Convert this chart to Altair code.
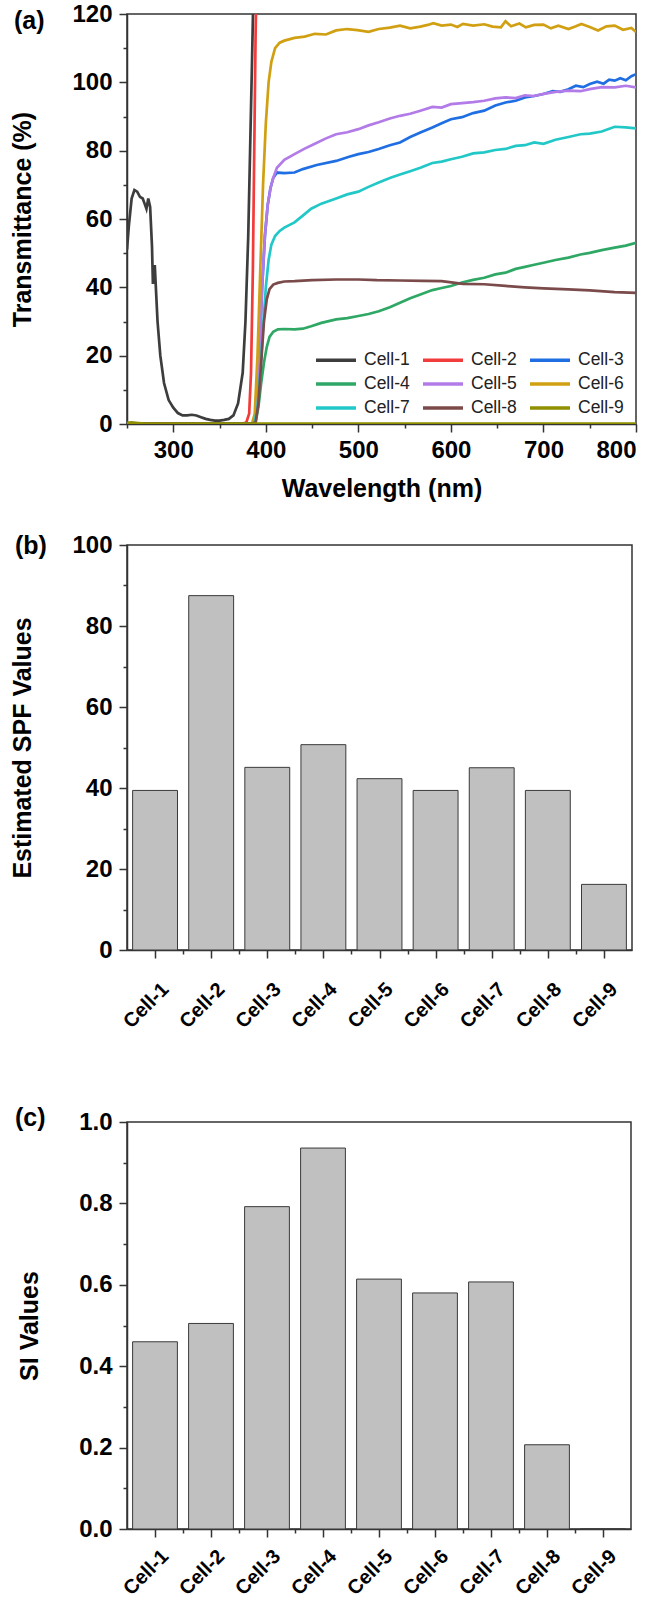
import json
import altair as alt
import pandas as pd

FONT = "Liberation Sans"

cells = ["Cell-1", "Cell-2", "Cell-3", "Cell-4", "Cell-5", "Cell-6", "Cell-7", "Cell-8", "Cell-9"]
colors = ["#3d3d3d", "#f23b3b", "#1f6fe3", "#2fa865", "#b27be8", "#d1a012", "#22c8c8", "#7b4b4b", "#8f8f00"]

# ---------------- panel (a): transmittance spectra ----------------
wl_1 = [250, 252, 255, 258, 261, 264, 267, 269, 271, 273, 275, 277, 278, 279, 280, 281, 283, 286, 290,
        295, 300, 305, 310, 315, 320, 325, 330, 335, 340, 345, 350, 355, 360, 365, 370, 375, 378, 381,
        383, 385, 386.5, 388, 800]
t_1 = [51, 58, 66, 68.5, 68, 66.5, 66, 64.5, 63, 66, 63.5, 52, 41, 44, 46.5, 41, 30, 20, 12,
       7, 4.8, 3.2, 2.5, 2.5, 2.7, 2.5, 2.0, 1.5, 1.2, 1.0, 1.0, 1.2, 1.5, 2.5, 6, 15, 30, 55,
       80, 105, 125, 140, 140]

wl_2 = [250, 375, 379, 382, 384, 386, 387.5, 389, 390, 800]
t_2 = [0.2, 0.1, 0.5, 3, 15, 45, 80, 115, 130, 130]

wl_3 = [250, 384, 387, 390, 393, 396, 399, 402, 405, 408, 412, 420, 431, 440, 455, 476, 490, 500, 511,
        522, 534, 545, 556, 567, 580, 590, 600, 612, 624, 636, 648, 659, 670, 680, 690, 700, 710, 718,
        727, 735, 743, 750, 758, 765, 771, 777, 783, 789, 795, 800]
t_3 = [0.2, 0.1, 0.5, 5, 20, 40, 55, 64, 69, 72, 73.6, 73.4, 73.6, 74.6, 75.8, 77, 78.2, 79, 79.6,
       80.5, 81.6, 82.4, 84.0, 85.3, 86.8, 88.0, 89.2, 89.8, 91.0, 91.7, 93.2, 94.1, 94.6, 95.6, 96.0, 96.6, 97.4, 97.2,
       98.0, 99.0, 98.6, 99.5, 100.2, 99.6, 100.8, 100.5, 101.2, 100.6, 101.8, 102.4]

wl_4 = [250, 385, 389, 392, 395, 398, 401, 404, 408, 413, 420, 431, 440, 449, 460, 476, 488, 500, 511,
        522, 534, 545, 556, 567, 580, 590, 600, 612, 624, 636, 648, 659, 670, 680, 690, 700, 713, 727,
        740, 750, 763, 777, 789, 800]
t_4 = [0.2, 0.1, 0.5, 5, 12, 18, 22.5, 25.5, 27, 27.7, 27.8, 27.7, 27.9, 28.6, 29.6, 30.6, 31.0, 31.6, 32.2,
       33.0, 34.2, 35.5, 36.8, 37.9, 39.2, 39.8, 40.4, 41.4, 42.2, 42.8, 43.8, 44.3, 45.4, 46.0, 46.6, 47.2, 48.0, 48.7,
       49.6, 50.1, 50.9, 51.6, 52.2, 53.0]

wl_5 = [250, 384, 387, 390, 393, 396, 399, 402, 405, 408, 412, 420, 431, 442, 453, 465, 476, 488, 500,
        511, 522, 534, 545, 556, 567, 580, 590, 600, 612, 624, 636, 648, 659, 670, 680, 690, 700, 713,
        727, 740, 750, 763, 777, 789, 800]
t_5 = [0.2, 0.1, 0.5, 5, 20, 40, 55, 64, 69, 72, 75, 77.3, 79, 80.6, 82, 83.6, 84.8, 85.4, 86.3,
       87.4, 88.3, 89.4, 90.2, 90.8, 91.7, 92.8, 92.6, 93.6, 93.9, 94.2, 94.6, 95.3, 95.6, 95.4, 96.2, 96.0, 96.6, 97.2,
       97.6, 97.4, 98.0, 98.6, 98.5, 99.0, 98.5]

wl_6 = [250, 385, 388, 391, 394, 397, 400, 403, 406, 410, 415, 420, 431, 442, 453, 465, 476, 488, 499,
        511, 522, 534, 545, 556, 567, 575, 581, 590, 600, 607, 613, 624, 636, 645, 654, 659, 665, 674,
        681, 690, 700, 708, 716, 727, 735, 741, 750, 759, 768, 777, 786, 795, 800]
t_6 = [0.2, 0.1, 3, 20, 45, 70, 88, 100, 106, 110, 111.6, 112.2, 113, 113.4, 114.2, 114.0, 115.2, 115.6, 115.3,
       114.8, 115.6, 116.0, 116.6, 115.8, 116.3, 116.8, 117.3, 116.6, 116.9, 116.2, 117.1, 116.6, 117.0, 116.3, 116.1, 117.9, 116.4, 117.2,
       116.1, 116.8, 116.9, 115.8, 116.6, 115.6, 116.4, 117.1, 116.2, 115.2, 116.4, 116.6, 115.4, 115.9, 114.7]

wl_7 = [250, 385, 388, 391, 394, 397, 400, 403, 406, 410, 415, 420, 431, 440, 449, 460, 476, 488, 500,
        511, 522, 534, 545, 556, 567, 580, 590, 600, 612, 624, 636, 648, 659, 670, 680, 690, 700, 713,
        727, 740, 750, 763, 777, 789, 800]
t_7 = [0.2, 0.1, 0.5, 5, 15, 28, 40, 48, 52.5, 55, 56.5, 57.5, 59, 61, 63, 64.5, 66, 67.2, 68,
       69.4, 70.7, 72.0, 73, 74.0, 75, 76.4, 76.8, 77.5, 78.2, 79.2, 79.5, 80.2, 80.5, 81.4, 81.6, 82.4, 82, 83.2,
       84, 84.8, 85, 85.6, 87, 86.8, 86.5]

wl_8 = [250, 385, 389, 392, 395, 398, 401, 404, 408, 413, 420, 431, 450, 476, 500, 520, 545, 570, 590,
        613, 636, 659, 680, 700, 727, 750, 777, 800]
t_8 = [0.2, 0.1, 0.5, 6, 18, 30, 36.5, 39.5, 40.8, 41.3, 41.7, 41.8, 42.1, 42.3, 42.3, 42.1, 42.0, 41.9, 41.8,
       41.0, 40.9, 40.4, 40.0, 39.7, 39.4, 39.1, 38.6, 38.4]

wl_9 = [250, 255, 262, 270, 400, 800]
t_9 = [0.3, 0.5, 0.3, 0.1, 0.1, 0.1]

series_wl = [wl_1, wl_2, wl_3, wl_4, wl_5, wl_6, wl_7, wl_8, wl_9]
series_t = [t_1, t_2, t_3, t_4, t_5, t_6, t_7, t_8, t_9]

rows = []
for name, wls, ts in zip(cells, series_wl, series_t):
    for w, t in zip(wls, ts):
        rows.append({"cell": name, "wl": w, "t": t})
spec_df = pd.DataFrame(rows)

x_ticks_a = [250, 300, 350, 400, 450, 500, 550, 600, 650, 700, 750, 800]
y_ticks_a = [0, 10, 20, 30, 40, 50, 60, 70, 80, 90, 100, 110, 120]

# ---------------- panel (b) & (c) ----------------
spf_values = [39.4, 87.5, 45.1, 50.7, 42.3, 39.4, 45.0, 39.4, 16.2]
si_values = [0.460, 0.505, 0.792, 0.936, 0.614, 0.580, 0.607, 0.207, 0.0]

bar_df = pd.DataFrame({"cell": cells, "spf": spf_values, "si": si_values})
bar_df["idx"] = range(1, len(cells) + 1)
bar_df["x0"] = bar_df["idx"] - 0.4
bar_df["x1"] = bar_df["idx"] + 0.4

cat_ticks = [1, 1.5, 2, 2.5, 3, 3.5, 4, 4.5, 5, 5.5, 6, 6.5, 7, 7.5, 8, 8.5, 9]
y_ticks_b = [0, 10, 20, 30, 40, 50, 60, 70, 80, 90, 100]
y_ticks_c = [0, 0.1, 0.2, 0.3, 0.4, 0.5, 0.6, 0.7, 0.8, 0.9, 1.0]

MAJ, MIN = 8, 4


def cond_size(test):
    return {"condition": {"test": test, "value": MAJ}, "value": MIN}


def panel_label(text, dx, dy):
    return alt.Chart(pd.DataFrame({"label": [text]})).mark_text(
        align="left", baseline="middle", fontSize=25, fontWeight="bold", font=FONT, color="black"
    ).encode(x=alt.value(dx), y=alt.value(dy), text="label:N")


# ---- (a)
lines = alt.Chart(spec_df).mark_line(strokeWidth=2.7, clip=True).encode(
    x=alt.X("wl:Q", scale=alt.Scale(domain=[250, 800], nice=False, zero=False),
            axis=alt.Axis(values=x_ticks_a, title="Wavelength (nm)",
                          labelExpr="datum.value % 100 === 0 ? datum.label : ''",
                          tickSize=cond_size("datum.value % 100 === 0"),
                          labelPadding=6, titlePadding=14)),
    y=alt.Y("t:Q", scale=alt.Scale(domain=[0, 120], nice=False),
            axis=alt.Axis(values=y_ticks_a, title="Transmittance (%)",
                          labelExpr="datum.value % 20 === 0 ? datum.label : ''",
                          tickSize=cond_size("datum.value % 20 === 0"),
                          labelPadding=7, titlePadding=36)),
    color=alt.Color("cell:N", scale=alt.Scale(domain=cells, range=colors),
                    legend=alt.Legend(title=None, orient="none", legendX=187, legendY=334, columns=3,
                                      direction="horizontal", gridAlign="all",
                                      symbolType="M-1,0H3", symbolSize=400, symbolStrokeWidth=3.5,
                                      labelFont=FONT, labelFontSize=17.5, labelFontWeight="normal",
                                      labelColor="#222", columnPadding=6, rowPadding=3, labelOffset=26,
                                      labelLimit=60)),
    order=alt.Order("wl:Q"),
)
chart_a = alt.layer(lines, panel_label("(a)", -113, 7)).properties(width=509, height=410)

# ---- bars helper
cat_label_expr = "datum.value % 1 === 0 ? " + json.dumps(cells) + "[datum.value - 1] : ''"


def bar_panel(field, title, y_dom, y_ticks, y_label_expr, y_major_test, w, h, label, ldy, xpad):
    bars = alt.Chart(bar_df).mark_bar(color="#c0c0c0", stroke="#3a3a3a", strokeWidth=1).encode(
        x=alt.X("x0:Q", scale=alt.Scale(domain=[0.5, 9.5], nice=False, zero=False),
                axis=alt.Axis(values=cat_ticks, title=None, labelExpr=cat_label_expr,
                              tickSize=cond_size("datum.value % 1 === 0"),
                              labelAngle=-45, labelAlign="right", labelBaseline="middle",
                              labelFontSize=20, labelPadding=xpad, labelOffset=10)),
        x2="x1:Q",
        y=alt.Y(field + ":Q", scale=alt.Scale(domain=y_dom, nice=False),
                axis=alt.Axis(values=y_ticks, title=title, labelExpr=y_label_expr,
                              tickSize=cond_size(y_major_test),
                              labelPadding=7, titlePadding=36)),
        y2=alt.datum(0),
    )
    return alt.layer(bars, panel_label(label, -112, ldy)).properties(width=w, height=h)


chart_b = bar_panel("spf", "Estimated SPF Values", [0, 100], y_ticks_b,
                    "datum.value % 20 === 0 ? datum.label : ''", "datum.value % 20 === 0",
                    505, 405, "(b)", 1, 28)
chart_c = bar_panel("si", "SI Values", [0, 1], y_ticks_c,
                    "round(datum.value * 10) % 2 === 0 ? format(datum.value, '.1f') : ''",
                    "round(datum.value * 10) % 2 === 0",
                    504, 407, "(c)", -4, 16)

top = alt.concat(chart_a, chart_b, columns=1, align="none", spacing=30)
chart = alt.concat(top, chart_c, columns=1, align="none", spacing=72).properties(
    padding={"left": 10, "top": 1, "right": 0, "bottom": 0}
).configure_view(stroke="#333", strokeWidth=1.5).configure_axis(
    grid=False, domainColor="#333", domainWidth=1.5, tickColor="#333", tickWidth=1.5,
    labelFont=FONT, labelFontWeight="bold", labelFontSize=24, labelColor="black",
    titleFont=FONT, titleFontWeight="bold", titleFontSize=25, titleColor="black",
).configure_legend(
    labelFont=FONT,
)

chart.save("out.html", embed_options={"renderer": "svg", "actions": False})
